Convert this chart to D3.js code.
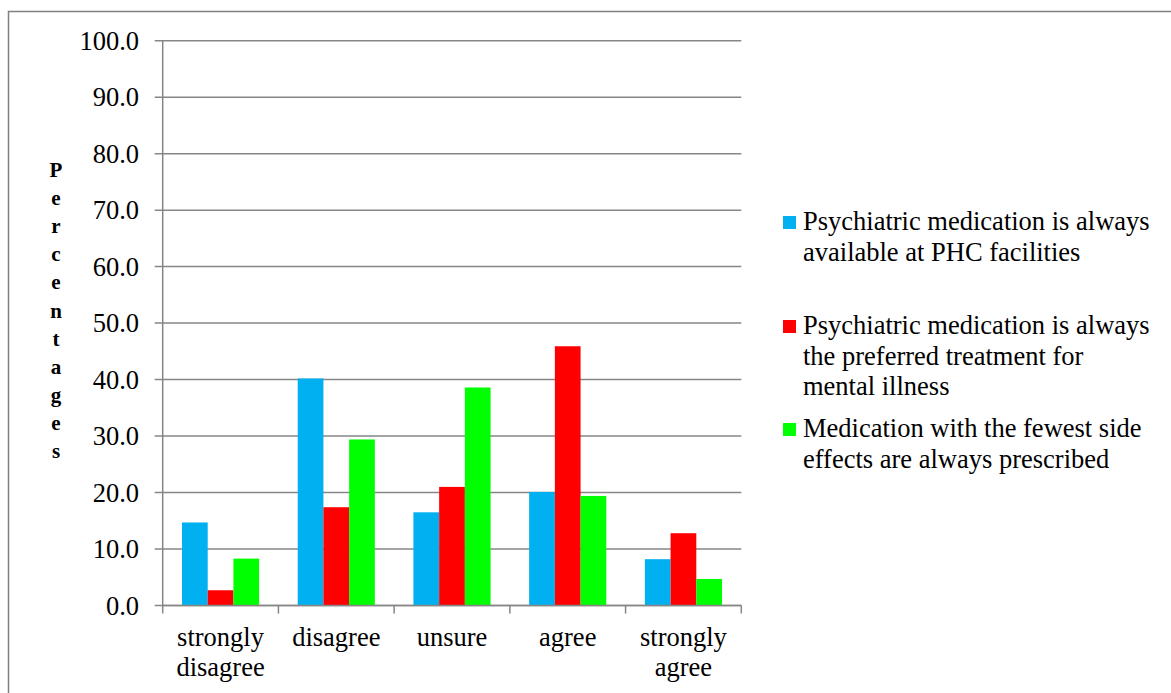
<!DOCTYPE html>
<html>
<head>
<meta charset="utf-8">
<script src="https://cdn.jsdelivr.net/npm/d3@7"></script>
<style>
  html, body { margin: 0; padding: 0; background: #fff; }
  svg { display: block; }
</style>
</head>
<body>
<svg id="chart" width="1171" height="693" font-family="Liberation Serif"></svg>
<script>
const categories = [["strongly", "disagree"], ["disagree"], ["unsure"], ["agree"], ["strongly", "agree"]];
const categoryKeys = ["strongly disagree", "disagree", "unsure", "agree", "strongly agree"];
const seriesNames = [
  ["Psychiatric medication is always", "available at PHC facilities"],
  ["Psychiatric medication is always", "the preferred treatment for", "mental illness"],
  ["Medication with the fewest side", "effects are always prescribed"]
];
const seriesColors = ["#00B0F0", "#FF0000", "#00FF00"];
const availableValues = [14.7, 40.2, 16.5, 20.1, 8.2];
const preferredValues = [2.7, 17.4, 21.0, 45.9, 12.8];
const fewestSideValues = [8.3, 29.4, 38.6, 19.4, 4.7];
const yTicks = [0, 10, 20, 30, 40, 50, 60, 70, 80, 90, 100];
const yTitle = "Percentages";

const FONT = "Liberation Serif";
const seriesValues = [availableValues, preferredValues, fewestSideValues];
const svg = d3.select("#chart");
const gridColor = "#868686";

// outer border
svg.append("path")
  .attr("d", "M8.5,700 V11.5 H1180")
  .attr("fill", "none").attr("stroke", "#7f7f7f").attr("stroke-width", 1.5);

const x0 = 162.7, x1 = 741.3, yTop = 40.7, yBot = 605.5;
const x = d3.scaleBand().domain(categoryKeys).range([x0, x1]).paddingInner(0).paddingOuter(0);
const y = d3.scaleLinear().domain([0, 100]).range([yBot, yTop]);

// gridlines
svg.append("g").selectAll("line").data(yTicks).join("line")
  .attr("x1", x0 - 8).attr("x2", x1)
  .attr("y1", d => y(d)).attr("y2", d => y(d))
  .attr("stroke", gridColor).attr("stroke-width", 1.5);

// y tick labels
svg.append("g").selectAll("text").data(yTicks).join("text")
  .attr("x", 139).attr("y", d => y(d) + 9)
  .attr("text-anchor", "end")
  .attr("font-family", FONT)
  .attr("font-size", 26.5)
  .text(d => d.toFixed(1));

// bars
const bandW = x.bandwidth();
const barW = bandW / 4.5;
const groupOff = (bandW - 3 * barW) / 2;
seriesValues.forEach((vals, si) => {
  svg.append("g").selectAll("rect").data(vals).join("rect")
    .attr("x", (d, i) => x(categoryKeys[i]) + groupOff + si * barW)
    .attr("y", d => y(d))
    .attr("width", barW)
    .attr("height", d => y(0) - y(d))
    .attr("fill", seriesColors[si]);
});

// y axis line
svg.append("line").attr("x1", x0).attr("x2", x0).attr("y1", yTop).attr("y2", yBot)
  .attr("stroke", gridColor).attr("stroke-width", 1.5);
// x axis line
svg.append("line").attr("x1", x0).attr("x2", x1).attr("y1", yBot).attr("y2", yBot)
  .attr("stroke", gridColor).attr("stroke-width", 1.5);
// x ticks
const xTickPos = categoryKeys.map(k => x(k)).concat([x1]);
svg.append("g").selectAll("line").data(xTickPos).join("line")
  .attr("x1", d => d).attr("x2", d => d).attr("y1", yBot).attr("y2", yBot + 8)
  .attr("stroke", gridColor).attr("stroke-width", 1.5);

// x labels (one text per line)
categories.forEach((lines, i) => {
  const cx = x(categoryKeys[i]) + bandW / 2;
  svg.append("g").selectAll("text").data(lines).join("text")
    .attr("x", cx).attr("y", (d, j) => 645.5 + j * 30)
    .attr("text-anchor", "middle")
    .attr("font-family", FONT)
    .attr("font-size", 26.5)
    .text(d => d);
});

// y title: stacked letters
svg.append("g").selectAll("text").data(yTitle.split("")).join("text")
  .attr("x", 56).attr("y", (d, i) => 177 + i * 28.1)
  .attr("text-anchor", "middle")
  .attr("font-family", FONT)
  .attr("font-size", 21).attr("font-weight", "bold")
  .text(d => d);

// legend
const legendY = [230, 334, 437];
seriesNames.forEach((lines, si) => {
  const g = svg.append("g");
  g.append("rect").attr("x", 783).attr("y", legendY[si] - 14).attr("width", 13).attr("height", 13)
    .attr("fill", seriesColors[si]);
  g.selectAll("text").data(lines).join("text")
    .attr("font-family", FONT).attr("font-size", 26.5)
    .attr("x", 803).attr("y", (d, j) => legendY[si] + j * 30.5)
    .text(d => d);
});
</script>
</body>
</html>
